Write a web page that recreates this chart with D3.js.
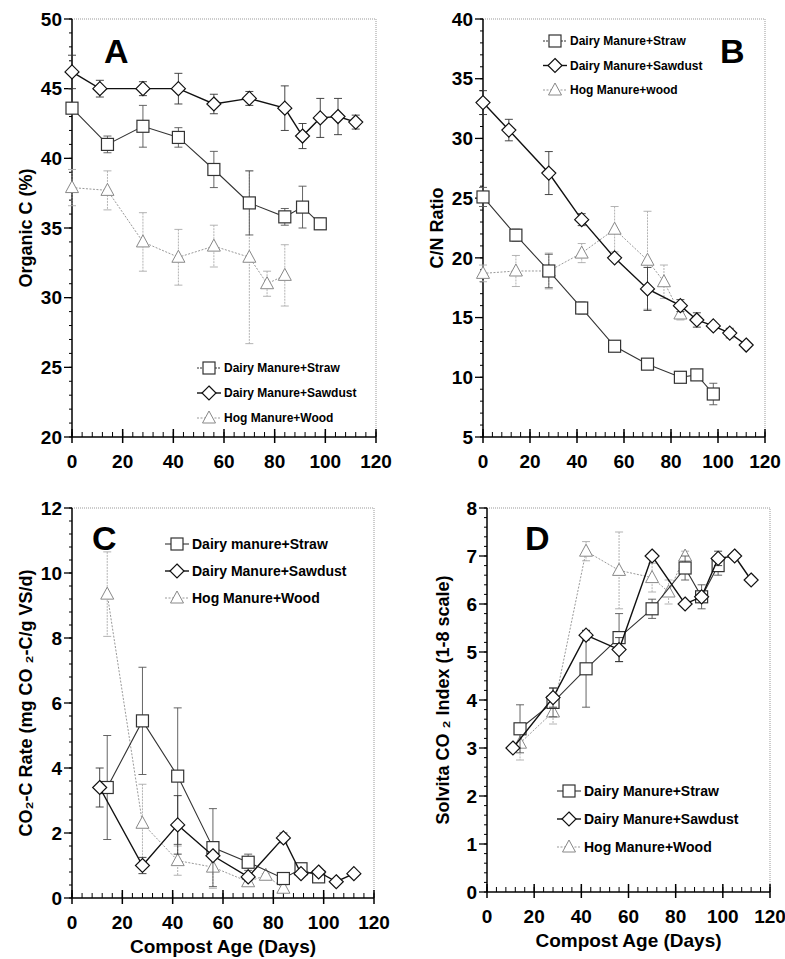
<!DOCTYPE html>
<html><head><meta charset="utf-8">
<script src="https://cdn.jsdelivr.net/npm/d3@7"></script>
<style>body{margin:0;background:#fff}svg{font-family:"Liberation Sans",Arial,sans-serif;font-weight:bold}</style>
</head><body><svg id="c" width="785" height="959"></svg>
<script>
// ---- Data ----
const xTicks = [0,20,40,60,80,100,120];
// Panel A: Organic C (%)
const aStrawX=[0,14,28,42,56,70,84,91,98], aStrawY=[43.6,41,42.3,41.5,39.2,36.8,35.8,36.5,35.3], aStrawE=[0.3,0.6,1.5,0.7,1.3,2.3,0.6,1.5,0.4];
const aSawX=[0,11,28,42,56,70,84,91,98,105,112], aSawY=[46.2,45,45,45,43.9,44.3,43.6,41.6,42.9,43,42.6], aSawE=[1.2,0.6,0.5,1.1,0.7,0.5,1.6,0.9,1.4,1.3,0.5];
const aHogX=[0,14,28,42,56,70,77,84], aHogY=[37.9,37.7,34,32.9,33.7,32.9,31,31.6], aHogE=[1.3,1.4,2.1,2,1.5,6.2,0.9,2.2];
// Panel B: C/N ratio
const bStrawX=[0,14,28,42,56,70,84,91,98], bStrawY=[25.1,21.9,18.9,15.8,12.6,11.1,10,10.2,8.6], bStrawE=[0.8,0.5,1.4,0.5,0.2,0.2,0.2,0.2,0.9];
const bSawX=[0,11,28,42,56,70,84,91,98,105,112], bSawY=[33,30.7,27.1,23.2,20,17.4,16,14.8,14.3,13.7,12.7], bSawE=[1,0.9,1.8,0.5,0.2,1.8,0.5,0.6,0.2,0.4,0.2];
const bHogX=[0,14,28,42,56,70,77,84], bHogY=[18.7,18.9,18.9,20.4,22.4,19.8,18,15.3], bHogE=[0.7,1.3,1.5,0.8,1.9,4.1,1.4,0.5];
// Panel C: CO2-C rate
const cStrawX=[14,28,42,56,70,84,91,98], cStrawY=[3.4,5.45,3.75,1.55,1.1,0.6,0.9,0.65], cStrawE=[1.6,1.65,2.1,1.2,0.25,0.1,0.1,0.15];
const cSawX=[11,28,42,56,70,84,91,98,105,112], cSawY=[3.4,1.0,2.25,1.3,0.65,1.85,0.75,0.8,0.5,0.75], cSawE=[0.6,0.25,0.9,0.1,0.1,0.15,0.05,0.05,0.05,0.05];
const cHogX=[14,28,42,56,70,77,84], cHogY=[9.35,2.3,1.15,0.95,0.5,0.7,0.3], cHogE=[1.3,1.2,0.45,0.65,0.1,0.05,0.1];
// Panel D: Solvita CO2 index
const dStrawX=[14,28,42,56,70,84,91,98], dStrawY=[3.4,3.95,4.65,5.3,5.9,6.75,6.15,6.8], dStrawE=[0.5,0.3,0.8,0.5,0.2,0.25,0.25,0.2];
const dSawX=[11,28,42,56,70,84,91,98,105,112], dSawY=[3,4.05,5.35,5.05,7,6,6.15,6.95,7,6.5], dSawE=[0,0.2,0.1,0.25,0,0,0,0.15,0,0];
const dHogX=[14,28,42,56,70,77,84], dHogY=[3.1,3.75,7.1,6.7,6.55,6.25,7.0], dHogE=[0.35,0.25,0.2,0.8,0.3,0.25,0.1];

const panels=[
 {L:72,T:19,R:376,B:437,y:[20,50],yt:[20,25,30,35,40,45,50],ym:1,letter:"A",lx:104,ly:63,yl:"Organic C (%)",ylx:26,
  leg:{x:197,y:368,dy:25,fs:12,names:["Dairy Manure+Straw","Dairy Manure+Sawdust","Hog Manure+Wood"]},
  s:[[aStrawX,aStrawY,aStrawE],[aSawX,aSawY,aSawE],[aHogX,aHogY,aHogE]],xt:false},
 {L:483,T:19,R:765,B:437,y:[5,40],yt:[5,10,15,20,25,30,35,40],ym:1,letter:"B",lx:720,ly:63,yl:"C/N  Ratio",ylx:437,
  leg:{x:543,y:41,dy:24.5,fs:12,names:["Dairy Manure+Straw","Dairy Manure+Sawdust","Hog Manure+wood"]},
  s:[[bStrawX,bStrawY,bStrawE],[bSawX,bSawY,bSawE],[bHogX,bHogY,bHogE]],xt:false},
 {L:72,T:508,R:374,B:898,y:[0,12],yt:[0,2,4,6,8,10,12],ym:0.4,letter:"C",lx:92,ly:550,yl:"CO\u2082-C Rate (mg CO \u2082-C/g VS/d)",ylx:26,
  leg:{x:165,y:544,dy:27,fs:14,names:["Dairy manure+Straw","Dairy Manure+Sawdust","Hog Manure+Wood"]},
  s:[[cStrawX,cStrawY,cStrawE],[cSawX,cSawY,cSawE],[cHogX,cHogY,cHogE]],xt:true},
 {L:487,T:508,R:770,B:892,y:[0,8],yt:[0,1,2,3,4,5,6,7,8],ym:0.2,letter:"D",lx:525,ly:550,yl:"Solvita CO \u2082 Index (1-8 scale)",ylx:443,
  leg:{x:557,y:791,dy:28,fs:14,names:["Dairy Manure+Straw","Dairy Manure+Sawdust","Hog Manure+Wood"]},
  s:[[dStrawX,dStrawY,dStrawE],[dSawX,dSawY,dSawE],[dHogX,dHogY,dHogE]],xt:true}
];
const styles=[{c:"#333",w:1.1,d:null,shape:"sq",ec:"#555"},{c:"#111",w:1.4,d:null,shape:"di",ec:"#333"},{c:"#999",w:1,d:"2,1.5",shape:"tr",ec:"#aaa"}];
const svg=d3.select("#c");
function marker(g,shape,x,y,col){
  if(shape==="sq") g.append("rect").attr("x",x-6).attr("y",y-6).attr("width",12).attr("height",12).attr("fill","#fff").attr("stroke",col).attr("stroke-width",1.2);
  else if(shape==="di") g.append("path").attr("d",`M${x},${y-7}L${x+7},${y}L${x},${y+7}L${x-7},${y}Z`).attr("fill","#fff").attr("stroke",col).attr("stroke-width",1.2);
  else g.append("path").attr("d",`M${x},${y-7}L${x+6.5},${y+5}L${x-6.5},${y+5}Z`).attr("fill","#fff").attr("stroke","#888").attr("stroke-width",1);
}
panels.forEach(p=>{
  const x=d3.scaleLinear().domain([0,120]).range([p.L,p.R]);
  const y=d3.scaleLinear().domain(p.y).range([p.B,p.T]);
  const g=svg.append("g");
  g.append("path").attr("d",`M${p.L},${p.T}H${p.R}V${p.B}`).attr("fill","none").attr("stroke","#999").attr("stroke-dasharray","1,1");
  g.append("line").attr("x1",p.L).attr("x2",p.L).attr("y1",p.T).attr("y2",p.B).attr("stroke","#000").attr("stroke-width",1.5);
  g.append("line").attr("x1",p.L).attr("x2",p.R).attr("y1",p.B).attr("y2",p.B).attr("stroke","#000").attr("stroke-width",1.5);
  d3.range(p.y[0],p.y[1]+1e-9,p.ym).forEach(v=>g.append("line").attr("x1",p.L-3).attr("x2",p.L).attr("y1",y(v)).attr("y2",y(v)).attr("stroke","#000"));
  p.yt.forEach(v=>{g.append("line").attr("x1",p.L-8).attr("x2",p.L).attr("y1",y(v)).attr("y2",y(v)).attr("stroke","#000").attr("stroke-width",1.3);
    g.append("text").attr("x",p.L-10).attr("y",y(v)).attr("dy","0.35em").attr("text-anchor","end").attr("font-size",19).text(v);});
  d3.range(0,121,4).forEach(v=>g.append("line").attr("x1",x(v)).attr("x2",x(v)).attr("y1",p.B).attr("y2",p.B-5).attr("stroke","#000"));
  xTicks.forEach(v=>{g.append("line").attr("x1",x(v)).attr("x2",x(v)).attr("y1",p.B-8).attr("y2",p.B+6).attr("stroke","#000").attr("stroke-width",1.5);
    g.append("text").attr("x",x(v)).attr("y",p.B+31).attr("text-anchor","middle").attr("font-size",19).text(v);});
  if(p.xt) g.append("text").attr("x",(p.L+p.R)/2).attr("y",p.B+55).attr("text-anchor","middle").attr("font-size",19).text("Compost Age (Days)");
  g.append("text").attr("transform",`translate(${p.ylx},${(p.T+p.B)/2}) rotate(-90)`).attr("text-anchor","middle").attr("dy","0.35em").attr("font-size",18).text(p.yl);
  g.append("text").attr("x",p.lx).attr("y",p.ly).attr("font-size",34).text(p.letter);
  [2,0,1].forEach(i=>{
    const [xs,ys,es]=p.s[i], st=styles[i];
    const pts=xs.map((d,k)=>[x(d),y(ys[k]),es[k]]);
    pts.forEach(([px,py,e],k)=>{ if(es[k]>0){const y1=y(ys[k]+e),y2=y(ys[k]-e);
      g.append("line").attr("x1",px).attr("x2",px).attr("y1",y1).attr("y2",y2).attr("stroke",st.ec).attr("stroke-width",0.9).attr("stroke-dasharray",i===2?"2,1":null);
      [y1,y2].forEach(yy=>g.append("line").attr("x1",px-4).attr("x2",px+4).attr("y1",yy).attr("y2",yy).attr("stroke",st.ec).attr("stroke-width",0.9));}});
    g.append("path").attr("d",d3.line()(pts.map(d=>[d[0],d[1]]))).attr("fill","none").attr("stroke",st.c).attr("stroke-width",st.w).attr("stroke-dasharray",st.d);
    pts.forEach(([px,py])=>marker(g,st.shape,px,py,st.c));
  });
  p.leg.names.forEach((n,i)=>{const st=styles[i],yy=p.leg.y+i*p.leg.dy;
    g.append("line").attr("x1",p.leg.x).attr("x2",p.leg.x+24).attr("y1",yy).attr("y2",yy).attr("stroke",st.c).attr("stroke-width",st.w).attr("stroke-dasharray",i===2?"2,1.5":(p.letter==="A"||p.letter==="B")&&i===0?"2,1":null);
    marker(g,st.shape,p.leg.x+12,yy,st.c);
    g.append("text").attr("x",p.leg.x+27).attr("y",yy).attr("dy","0.35em").attr("font-size",p.leg.fs).text(n);});
});
</script></body></html>
